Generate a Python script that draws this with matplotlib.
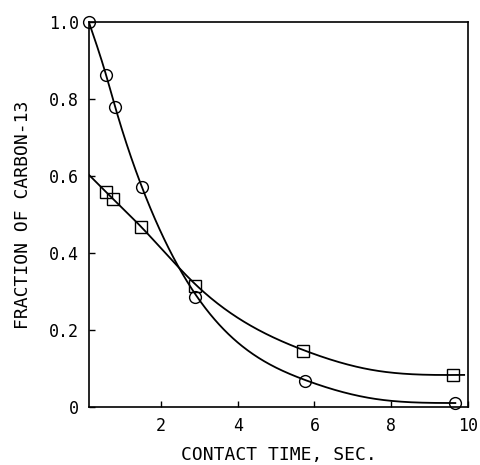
import numpy as np
import matplotlib
matplotlib.use('Agg')
import matplotlib.pyplot as plt

circ_t = [0.12, 0.57, 0.79, 1.50, 2.90, 5.75, 9.67]
circ_f = [1.00, 0.862, 0.78, 0.571, 0.286, 0.068, 0.010]

sq_t = [0.57, 0.75, 1.48, 2.90, 5.70, 9.60]
sq_f = [0.558, 0.540, 0.468, 0.315, 0.146, 0.083]

# hand-drawn smooth curves (knots)
circ_curve_t = [0.12, 0.57, 0.79, 1.50, 2.90, 5.75, 7.5, 9.67]
circ_curve_f = [1.00, 0.862, 0.785, 0.572, 0.292, 0.070, 0.022, 0.010]
sq_curve_t = [0.12, 0.57, 1.48, 2.90, 5.70, 7.5, 9.90]
sq_curve_f = [0.603, 0.558, 0.468, 0.318, 0.148, 0.096, 0.083]


def spline(x, y, xn):
    # natural cubic spline through the knots
    x = np.asarray(x, float)
    y = np.asarray(y, float)
    n = len(x)
    h = np.diff(x)
    A = np.zeros((n, n))
    b = np.zeros(n)
    A[0, 0] = 1
    A[-1, -1] = 1
    for i in range(1, n - 1):
        A[i, i - 1] = h[i - 1]
        A[i, i] = 2 * (h[i - 1] + h[i])
        A[i, i + 1] = h[i]
        b[i] = 6 * ((y[i + 1] - y[i]) / h[i] - (y[i] - y[i - 1]) / h[i - 1])
    M = np.linalg.solve(A, b)
    idx = np.clip(np.searchsorted(x, xn) - 1, 0, n - 2)
    hi = h[idx]
    a = x[idx + 1] - xn
    c = xn - x[idx]
    return (M[idx] * a**3 / (6 * hi) + M[idx + 1] * c**3 / (6 * hi)
            + (y[idx] / hi - M[idx] * hi / 6) * a
            + (y[idx + 1] / hi - M[idx + 1] * hi / 6) * c)


plt.rcParams['font.family'] = ['DejaVu Sans Mono']

fig = plt.figure(figsize=(4.8, 4.65), dpi=100)
ax = fig.add_axes([0.185, 0.125, 0.79, 0.828])

tc = np.linspace(circ_curve_t[0], circ_curve_t[-1], 400)
ts = np.linspace(sq_curve_t[0], sq_curve_t[-1], 400)
ax.plot(tc, spline(circ_curve_t, circ_curve_f, tc), color='black', lw=1.3)
ax.plot(ts, spline(sq_curve_t, sq_curve_f, ts), color='black', lw=1.3)

ax.plot(circ_t, circ_f, 'o', ms=8.5, mfc='none', mec='black', mew=1.0, clip_on=False)
ax.plot(sq_t, sq_f, 's', ms=8, mfc='none', mec='black', mew=1.0, clip_on=False)

ax.set_xlim(0.12, 10)
ax.set_ylim(0, 1.0)
ax.set_xticks([2, 4, 6, 8, 10])
ax.set_xticklabels(['2', '4', '6', '8', '10'])
ax.set_yticks([0, 0.2, 0.4, 0.6, 0.8, 1.0])
ax.set_yticklabels(['0', '0.2', '0.4', '0.6', '0.8', '1.0'])
ax.tick_params(direction='in', length=4, width=1, labelsize=12, pad=7)
for s in ax.spines.values():
    s.set_linewidth(1.2)

ax.set_xlabel('CONTACT TIME, SEC.', fontsize=13, labelpad=8)
ax.set_ylabel('FRACTION OF CARBON-13', fontsize=13, labelpad=12)

fig.savefig('out.png')
